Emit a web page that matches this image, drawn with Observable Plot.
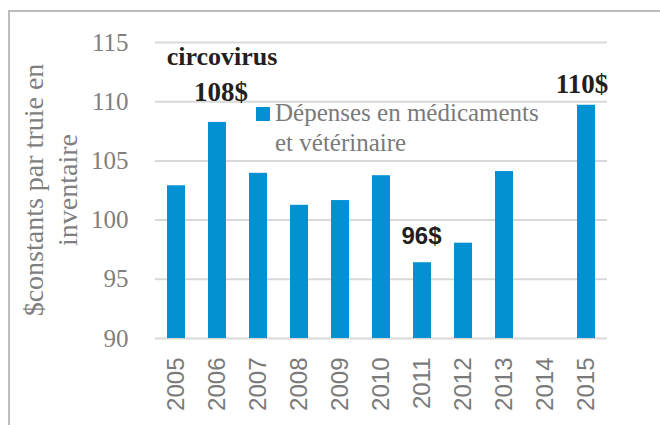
<!DOCTYPE html>
<html>
<head>
<meta charset="utf-8">
<script src="https://cdn.jsdelivr.net/npm/d3@7"></script>
<script src="https://cdn.jsdelivr.net/npm/@observablehq/plot@0.6"></script>
<style>
  html, body { margin: 0; padding: 0; background: #fff; overflow: hidden; }
  #wrap { position: relative; width: 660px; height: 425px; overflow: hidden; }
  #frame { position: absolute; left: 8px; top: 10px; width: 720px; height: 520px;
           border-top: 2px solid #bdbdbd; border-left: 2px solid #bdbdbd; box-sizing: border-box; }
  #chart { position: absolute; left: 0; top: 0; }
  #ytitle { position: absolute; width: 300px; height: 68px; left: -99px; top: 156px;
            transform: rotate(-90deg); transform-origin: 50% 50%;
            font-family: "Liberation Serif", serif; font-size: 28px; line-height: 34px;
            color: #7f7f7f; text-align: center; white-space: nowrap; }
  #legend { position: absolute; left: 256px; top: 98px; font-family: "Liberation Serif", serif;
            font-size: 25px; line-height: 30px; color: #7a7a7a; }
  #legend .sw { position: absolute; left: 0; top: 9px; width: 14px; height: 14px; }
  #legend .tx { position: absolute; left: 19px; top: 0; white-space: nowrap; }
</style>
</head>
<body>
<div id="wrap">
  <div id="frame"></div>
  <div id="chart"></div>
  <div id="ytitle"></div>
  <div id="legend"><div class="sw"></div><div class="tx"></div></div>
</div>
<script>
// ---- data ----
const years = ["2005","2006","2007","2008","2009","2010","2011","2012","2013","2014","2015"];
const values = [102.9, 108.25, 103.95, 101.25, 101.65, 103.75, 96.4, 98.05, 104.1, null, 109.7];
const yTicks = [90, 95, 100, 105, 110, 115];
const seriesName = "Dépenses en médicaments\net vétérinaire";
const yTitle = "$constants par truie en\ninventaire";
const noteYears = ["2006", "2006", "2011", "2015"];
const noteTexts = ["circovirus", "108$", "96$", "110$"];

const barColor = "#0391d4";

const table = years.map((year, i) => ({year, value: values[i]})).filter(d => d.value != null);
const notes = noteYears.map((year, i) => ({year, text: noteTexts[i], value: values[years.indexOf(year)]}));
const yMin = yTicks[0];

const plot = Plot.plot({
  width: 660,
  height: 425,
  marginLeft: 155,
  marginRight: 53,
  marginTop: 42,
  marginBottom: 87,
  style: {fontFamily: "Liberation Serif, serif", color: "#7f7f7f", background: "transparent", overflow: "visible"},
  x: {domain: years, paddingInner: 0.555, paddingOuter: 0.2775},
  y: {domain: [yTicks[0], yTicks[yTicks.length - 1]]},
  marks: [
    Plot.gridY(yTicks, {stroke: "#d9d9d9", strokeWidth: 2, strokeOpacity: 1}),
    Plot.barY(table, {x: "year", y1: () => yMin, y2: "value", fill: barColor}),
    Plot.axisY(yTicks, {tickSize: 0, tickPadding: 27, fontSize: 25, fontFamily: "Liberation Serif, serif", fill: "#7f7f7f", label: null}),
    Plot.axisX({tickSize: 0, tickPadding: 19, tickRotate: -90, fontSize: 24, fontFamily: "Liberation Sans, Arial, sans-serif", fill: "#7a7a7a", label: null}),
    Plot.text(notes.filter(d => d.text === "circovirus"), {x: "year", y: "value", text: "text", dx: 4.5, dy: -57.5, lineAnchor: "bottom", fontSize: 26, fontWeight: "bold", fontFamily: "Liberation Serif, serif", fill: "#231f20"}),
    Plot.text(notes.filter(d => d.text === "108$"), {x: "year", y: "value", text: "text", dx: 3.5, dy: -21.5, lineAnchor: "bottom", fontSize: 27, fontWeight: "bold", fontFamily: "Liberation Serif, serif", fill: "#231f20"}),
    Plot.text(notes.filter(d => d.text === "110$"), {x: "year", y: "value", text: "text", dx: -4.5, dy: -12, lineAnchor: "bottom", fontSize: 27, fontWeight: "bold", fontFamily: "Liberation Serif, serif", fill: "#231f20"}),
    Plot.text(notes.filter(d => d.text === "96$"), {x: "year", y: "value", text: "text", dx: -1, dy: -19, lineAnchor: "bottom", fontSize: 24, fontWeight: "bold", fontFamily: "Liberation Sans, Arial, sans-serif", fill: "#231f20"})
  ]
});
document.getElementById("chart").appendChild(plot);

const yt = document.getElementById("ytitle");
yTitle.split("\n").forEach(line => { const d = document.createElement("div"); d.textContent = line; yt.appendChild(d); });
document.querySelector("#legend .sw").style.background = barColor;
const tx = document.querySelector("#legend .tx");
seriesName.split("\n").forEach(line => { const d = document.createElement("div"); d.textContent = line; tx.appendChild(d); });
</script>
</body>
</html>
